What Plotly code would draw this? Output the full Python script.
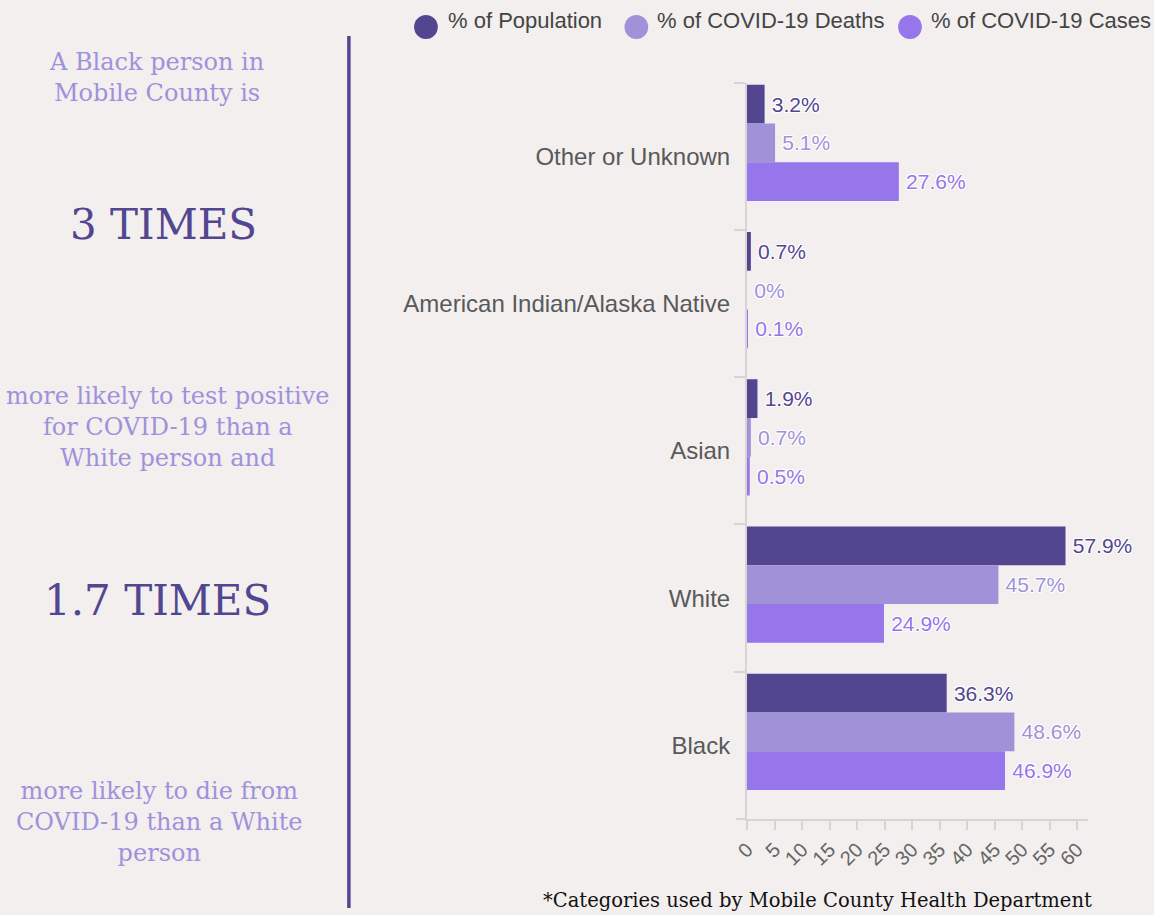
import plotly.graph_objects as go

# ---------------- data ----------------
categories = ["Other or Unknown", "American Indian/Alaska Native", "Asian", "White", "Black"]
population = [3.2, 0.7, 1.9, 57.9, 36.3]
deaths = [5.1, 0, 0.7, 45.7, 48.6]
cases = [27.6, 0.1, 0.5, 24.9, 46.9]
series_names = ["% of Population", "% of COVID-19 Deaths", "% of COVID-19 Cases"]
x_ticks = [0, 5, 10, 15, 20, 25, 30, 35, 40, 45, 50, 55, 60]

# ---------------- style ----------------
W, H = 1154, 915
BG = "#f2efee"
C_POP = "#524691"
C_DEATH = "#a092d8"
C_CASE = "#9775ea"
AXIS = "#d8d4d3"
LIGHT_TXT = "#9f92dc"
DARK_TXT = "#524691"
SERIF = "DejaVu Serif"
SANS = "Liberation Sans, Arial"

def px(x):
    return x / W

def py(y):
    return 1 - y / H

shadow = "-1px -1px 0 #fff, 1px -1px 0 #fff, -1px 1px 0 #fff, 1px 1px 0 #fff, 0 0 2px #fff"

bar_w = 0.263
offsets = [-0.486, -0.486 + bar_w, -0.486 + 2 * bar_w]
colors = [C_POP, C_DEATH, C_CASE]
values = [population, deaths, cases]

fig = go.Figure()
for name, vals, col, off in zip(series_names, values, colors, offsets):
    fig.add_trace(go.Bar(
        x=vals, y=categories, orientation="h", name=name,
        marker=dict(color=col, line=dict(width=0)),
        width=bar_w, offset=off,
        texttemplate="\u2009%{x}%", textposition="outside",
        textfont=dict(family=SANS, size=21, color=col, shadow=shadow),
        cliponaxis=False, showlegend=False, hoverinfo="x+y+name",
    ))

fig.update_layout(
    width=W, height=H, autosize=False,
    margin=dict(l=0, r=0, t=0, b=0),
    paper_bgcolor=BG, plot_bgcolor=BG,
    barmode="overlay", showlegend=False,
    xaxis=dict(
        domain=[px(742), px(1086.7)], range=[0, 61.9],
        tickmode="array", tickvals=x_ticks, ticktext=[str(t) for t in x_ticks],
        ticks="outside", ticklen=9, tickwidth=2, tickcolor=AXIS,
        showline=True, linecolor=AXIS, linewidth=2,
        showgrid=False, zeroline=False, tickangle=-45,
        tickfont=dict(family=SANS, size=20, color="#666666"),
        layer="below traces", fixedrange=True,
    ),
    yaxis=dict(
        domain=[py(819), py(82.7)], type="category",
        categoryorder="array", categoryarray=categories,
        range=[4.5, -0.5],
        ticks="outside", tickson="boundaries", ticklen=11, tickwidth=2, tickcolor=AXIS,
        ticklabelstandoff=10,
        showline=True, linecolor=AXIS, linewidth=2,
        showgrid=False, zeroline=False,
        tickfont=dict(family=SANS, size=24, color="#595959"),
        layer="below traces", fixedrange=True,
    ),
)

shapes = []
annotations = []

# x-axis line extension to the left
shapes.append(dict(type="line", xref="paper", yref="paper",
                   x0=px(731), x1=px(742), y0=py(819), y1=py(819),
                   line=dict(color=AXIS, width=2), layer="below"))

# vertical divider
shapes.append(dict(type="line", xref="paper", yref="paper",
                   x0=px(339), x1=px(339), y0=py(36), y1=py(908),
                   line=dict(color=C_POP, width=3.5)))

# custom legend
leg_circle_x = [417, 630, 907]
leg_text_x = [437, 649, 926]
for cx, tx, col, name in zip(leg_circle_x, leg_text_x, colors, series_names):
    r = 12
    shapes.append(dict(type="circle", xref="paper", yref="paper",
                       x0=px(cx - r), x1=px(cx + r), y0=py(27 + r), y1=py(27 - r),
                       fillcolor=col, line=dict(width=0)))
    annotations.append(dict(text=name, xref="paper", yref="paper",
                            x=px(tx), y=py(20), xanchor="left", yanchor="middle",
                            showarrow=False, font=dict(family=SANS, size=22, color="#444444")))

# left panel texts
left_texts = [
    ("A Black person in<br>Mobile County is", 144, 77, 24, LIGHT_TXT),
    ("3 TIMES", 151, 224, 42, DARK_TXT),
    ("more likely to test positive<br>for COVID-19 than a<br>White person and", 156, 427, 24, LIGHT_TXT),
    ("1.7 TIMES", 145, 600, 42, DARK_TXT),
    ("more likely to die from<br>COVID-19 than a White<br>person", 147, 822, 24, LIGHT_TXT),
]
for txt, x, y, size, col in left_texts:
    annotations.append(dict(text=txt, xref="paper", yref="paper",
                            x=px(x), y=py(y), xanchor="center", yanchor="middle",
                            align="center", showarrow=False,
                            font=dict(family=SERIF, size=size, color=col)))

# footnote
annotations.append(dict(text="*Categories used by Mobile County Health Department",
                        xref="paper", yref="paper", x=px(813), y=py(900),
                        xanchor="center", yanchor="middle", showarrow=False,
                        font=dict(family=SERIF, size=19.5, color="#111111")))

fig.update_layout(shapes=shapes, annotations=annotations)

page_fix = (
    "document.documentElement.style.margin='0';"
    "document.documentElement.style.padding='0';"
    "document.documentElement.style.background='" + BG + "';"
    "document.body.style.margin='0';"
    "document.body.style.padding='0';"
    "document.body.style.overflow='hidden';"
    "document.body.style.background='" + BG + "';"
)
fig.write_html("out.html", post_script=page_fix, config={"displayModeBar": False})
